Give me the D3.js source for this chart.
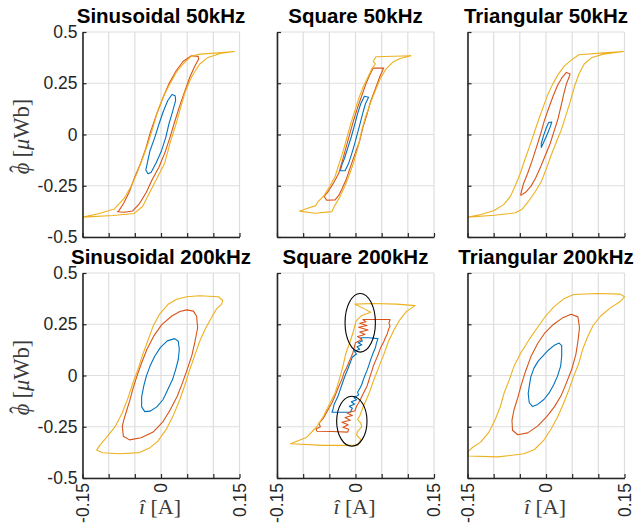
<!DOCTYPE html>
<html>
<head>
<meta charset="utf-8">
<script src="https://cdn.jsdelivr.net/npm/d3@7"></script>
<style>
  html, body { margin: 0; padding: 0; background: #fff; }
  svg { display: block; }
  text { white-space: pre; }
</style>
</head>
<body>
<svg id="chart" width="636" height="527"></svg>
<script>
// Axis ticks
const iTicks = [-0.15, -0.1, -0.05, 0, 0.05, 0.1, 0.15];
const iTickLabels = [-0.15, 0, 0.15];
const phiTicks = [-0.5, -0.25, 0, 0.25, 0.5];
const panelTitles = ["Sinusoidal 50kHz", "Square 50kHz", "Triangular 50kHz",
                     "Sinusoidal 200kHz", "Square 200kHz", "Triangular 200kHz"];

// B-H loops: [current i (A), flux phi (uWb)]
const sin50Blue = [[-0.025,-0.192],[-0.019,-0.185],[-0.009,-0.137],[0.001,-0.079],[0.009,-0.015],[0.015,0.050],[0.022,0.110],[0.028,0.166],[0.027,0.189],[0.021,0.195],[0.013,0.166],[0.004,0.110],[-0.004,0.050],[-0.012,-0.015],[-0.021,-0.079],[-0.026,-0.137],[-0.029,-0.173]];
const sin50Red = [[-0.083,-0.377],[-0.070,-0.379],[-0.054,-0.373],[-0.041,-0.337],[-0.028,-0.282],[-0.017,-0.221],[-0.004,-0.160],[0.007,-0.092],[0.017,-0.015],[0.026,0.061],[0.036,0.142],[0.046,0.215],[0.055,0.279],[0.065,0.335],[0.072,0.368],[0.071,0.381],[0.058,0.384],[0.042,0.356],[0.029,0.311],[0.015,0.247],[0.003,0.174],[-0.009,0.094],[-0.020,0.013],[-0.029,-0.068],[-0.039,-0.140],[-0.051,-0.213],[-0.060,-0.277],[-0.071,-0.334],[-0.081,-0.374]];
const sin50Yellow = [[-0.149,-0.403],[-0.092,-0.395],[-0.051,-0.385],[-0.035,-0.350],[-0.019,-0.269],[-0.006,-0.205],[0.007,-0.140],[0.017,-0.044],[0.029,0.053],[0.036,0.118],[0.046,0.206],[0.058,0.279],[0.074,0.344],[0.090,0.376],[0.113,0.395],[0.140,0.405],[0.103,0.397],[0.074,0.392],[0.058,0.382],[0.042,0.344],[0.029,0.303],[0.017,0.247],[0.004,0.182],[-0.006,0.118],[-0.015,0.037],[-0.025,-0.044],[-0.035,-0.116],[-0.046,-0.189],[-0.057,-0.253],[-0.070,-0.310],[-0.089,-0.363],[-0.118,-0.385]];

const sq50Blue = [[-0.029,-0.176],[-0.020,-0.177],[-0.013,-0.140],[-0.007,-0.092],[-0.001,-0.040],[0.004,0.008],[0.009,0.056],[0.014,0.105],[0.019,0.150],[0.025,0.182],[0.017,0.187],[0.010,0.150],[0.004,0.102],[-0.002,0.045],[-0.008,-0.011],[-0.015,-0.068],[-0.021,-0.116],[-0.026,-0.148]];
const sq50Red = [[-0.055,-0.321],[-0.039,-0.319],[-0.032,-0.297],[-0.026,-0.266],[-0.018,-0.221],[-0.010,-0.160],[-0.001,-0.095],[0.008,-0.031],[0.014,0.034],[0.022,0.098],[0.029,0.163],[0.038,0.223],[0.046,0.279],[0.052,0.315],[0.054,0.324],[0.034,0.324],[0.028,0.295],[0.020,0.247],[0.012,0.190],[0.004,0.131],[-0.004,0.066],[-0.011,0.002],[-0.018,-0.063],[-0.025,-0.127],[-0.032,-0.189],[-0.042,-0.237],[-0.052,-0.277],[-0.060,-0.302]];
const sq50Yellow = [[-0.107,-0.374],[-0.077,-0.384],[-0.045,-0.376],[-0.041,-0.353],[-0.031,-0.310],[-0.021,-0.256],[-0.013,-0.205],[-0.004,-0.140],[0.005,-0.060],[0.012,0.021],[0.019,0.085],[0.028,0.150],[0.038,0.215],[0.047,0.271],[0.058,0.319],[0.071,0.352],[0.085,0.371],[0.106,0.384],[0.073,0.382],[0.039,0.379],[0.034,0.356],[0.038,0.344],[0.032,0.324],[0.024,0.282],[0.015,0.234],[0.007,0.182],[-0.001,0.118],[-0.009,0.053],[-0.016,-0.011],[-0.023,-0.076],[-0.031,-0.140],[-0.039,-0.205],[-0.050,-0.256],[-0.060,-0.298],[-0.071,-0.326],[-0.076,-0.347],[-0.093,-0.361]];

const tri50Blue = [[-0.009,-0.063],[-0.004,-0.035],[0.003,0.005],[0.008,0.037],[0.011,0.061],[0.005,0.058],[0.000,0.029],[-0.005,-0.008],[-0.009,-0.044]];
const tri50Red = [[-0.048,-0.297],[-0.039,-0.282],[-0.029,-0.253],[-0.020,-0.213],[-0.010,-0.156],[-0.001,-0.100],[0.008,-0.044],[0.015,0.013],[0.023,0.077],[0.029,0.142],[0.034,0.198],[0.039,0.247],[0.044,0.279],[0.046,0.295],[0.039,0.303],[0.031,0.279],[0.022,0.239],[0.014,0.190],[0.006,0.134],[-0.003,0.069],[-0.010,0.005],[-0.018,-0.060],[-0.026,-0.124],[-0.035,-0.189],[-0.043,-0.240],[-0.048,-0.289]];
const tri50Yellow = [[-0.149,-0.403],[-0.099,-0.394],[-0.058,-0.382],[-0.045,-0.363],[-0.032,-0.321],[-0.020,-0.277],[-0.009,-0.229],[0.001,-0.165],[0.010,-0.100],[0.020,-0.035],[0.029,0.021],[0.037,0.085],[0.046,0.158],[0.055,0.239],[0.063,0.295],[0.073,0.344],[0.088,0.376],[0.110,0.392],[0.148,0.405],[0.110,0.398],[0.063,0.389],[0.048,0.363],[0.034,0.331],[0.023,0.292],[0.013,0.247],[0.004,0.198],[-0.005,0.137],[-0.014,0.073],[-0.023,0.005],[-0.032,-0.063],[-0.041,-0.127],[-0.049,-0.189],[-0.058,-0.245],[-0.068,-0.302],[-0.081,-0.342],[-0.099,-0.371],[-0.124,-0.390]];

const sin200Blue = [[0.026,0.180],[0.033,0.167],[0.035,0.127],[0.033,0.078],[0.028,0.029],[0.022,-0.020],[0.013,-0.068],[0.004,-0.117],[-0.008,-0.153],[-0.021,-0.174],[-0.031,-0.176],[-0.037,-0.153],[-0.037,-0.104],[-0.033,-0.052],[-0.028,-0.003],[-0.021,0.046],[-0.012,0.094],[-0.001,0.137],[0.012,0.169]];
const sin200Red = [[0.049,0.320],[0.062,0.314],[0.068,0.289],[0.070,0.233],[0.065,0.167],[0.059,0.098],[0.050,0.029],[0.041,-0.036],[0.031,-0.101],[0.018,-0.166],[0.003,-0.228],[-0.015,-0.276],[-0.038,-0.304],[-0.060,-0.314],[-0.072,-0.296],[-0.074,-0.247],[-0.070,-0.207],[-0.065,-0.166],[-0.060,-0.125],[-0.054,-0.068],[-0.046,-0.003],[-0.037,0.062],[-0.027,0.127],[-0.014,0.192],[0.001,0.247],[0.020,0.289],[0.036,0.312]];
const sin200Yellow = [[-0.123,-0.364],[-0.112,-0.377],[-0.079,-0.382],[-0.041,-0.376],[-0.022,-0.354],[-0.006,-0.320],[0.010,-0.263],[0.023,-0.198],[0.036,-0.117],[0.046,-0.044],[0.055,0.029],[0.065,0.102],[0.074,0.167],[0.084,0.224],[0.095,0.276],[0.106,0.325],[0.116,0.348],[0.118,0.366],[0.110,0.384],[0.074,0.389],[0.049,0.384],[0.029,0.371],[0.013,0.346],[-0.003,0.298],[-0.015,0.241],[-0.025,0.171],[-0.035,0.102],[-0.044,0.029],[-0.054,-0.039],[-0.063,-0.109],[-0.074,-0.182],[-0.087,-0.247],[-0.102,-0.296],[-0.117,-0.341]];

const sq200Blue = [[-0.045,-0.179],[-0.026,-0.179],[-0.010,-0.179],[-0.006,-0.160],[-0.012,-0.150],[-0.002,-0.140],[-0.008,-0.128],[0.002,-0.118],[-0.003,-0.108],[0.006,-0.095],[0.004,-0.082],[0.009,-0.060],[0.012,-0.044],[0.015,-0.020],[0.018,0.000],[0.022,0.025],[0.025,0.046],[0.028,0.070],[0.031,0.091],[0.034,0.112],[0.038,0.135],[0.040,0.158],[0.043,0.180],[0.025,0.184],[0.010,0.184],[0.013,0.168],[0.005,0.160],[0.012,0.150],[0.003,0.140],[0.008,0.128],[-0.002,0.118],[0.002,0.105],[-0.006,0.090],[-0.009,0.070],[-0.012,0.050],[-0.015,0.029],[-0.019,0.005],[-0.022,-0.016],[-0.025,-0.038],[-0.028,-0.060],[-0.031,-0.082],[-0.034,-0.104],[-0.041,-0.141],[-0.043,-0.166]];
const sq200Red = [[-0.074,-0.272],[-0.045,-0.273],[-0.015,-0.276],[-0.013,-0.262],[-0.024,-0.252],[-0.014,-0.240],[-0.026,-0.228],[-0.010,-0.218],[-0.020,-0.205],[-0.006,-0.195],[-0.016,-0.183],[-0.001,-0.172],[0.002,-0.150],[0.006,-0.133],[0.010,-0.113],[0.014,-0.093],[0.018,-0.072],[0.022,-0.052],[0.025,-0.028],[0.028,-0.003],[0.031,0.020],[0.034,0.046],[0.038,0.070],[0.042,0.094],[0.048,0.135],[0.054,0.165],[0.057,0.184],[0.061,0.205],[0.063,0.224],[0.066,0.240],[0.064,0.257],[0.066,0.273],[0.034,0.273],[0.014,0.273],[0.020,0.262],[0.008,0.255],[0.022,0.244],[0.006,0.235],[0.024,0.222],[0.008,0.212],[0.018,0.200],[0.004,0.190],[0.012,0.176],[0.000,0.160],[-0.001,0.151],[-0.003,0.130],[-0.005,0.111],[-0.009,0.086],[-0.013,0.062],[-0.017,0.038],[-0.022,0.013],[-0.025,-0.012],[-0.029,-0.036],[-0.033,-0.060],[-0.037,-0.085],[-0.041,-0.110],[-0.045,-0.133],[-0.054,-0.174],[-0.062,-0.211],[-0.070,-0.234],[-0.067,-0.250],[-0.075,-0.260]];
const sq200Yellow = [[-0.124,-0.333],[-0.061,-0.341],[0.004,-0.341],[0.010,-0.312],[0.002,-0.290],[0.004,-0.272],[0.012,-0.250],[0.010,-0.231],[0.004,-0.215],[0.008,-0.198],[0.015,-0.150],[0.025,-0.093],[0.034,-0.028],[0.044,0.037],[0.054,0.102],[0.063,0.167],[0.074,0.224],[0.085,0.273],[0.098,0.314],[0.114,0.341],[0.079,0.348],[0.034,0.351],[-0.001,0.348],[0.017,0.325],[0.029,0.309],[0.012,0.293],[0.001,0.265],[-0.004,0.216],[-0.010,0.167],[-0.018,0.111],[-0.024,0.046],[-0.031,-0.020],[-0.039,-0.085],[-0.050,-0.141],[-0.061,-0.198],[-0.074,-0.250],[-0.093,-0.301]];
// Highlighted regions: [i centre, phi centre, i radius, phi radius]
const sq200Marks = [[0.009, 0.257, 0.029, 0.143], [-0.007, -0.223, 0.029, 0.122]];

const tri200Blue = [[0.025,0.158],[0.030,0.146],[0.030,0.094],[0.028,0.046],[0.022,-0.003],[0.015,-0.044],[0.006,-0.085],[-0.004,-0.117],[-0.016,-0.141],[-0.026,-0.151],[-0.032,-0.133],[-0.034,-0.088],[-0.032,-0.052],[-0.029,-0.007],[-0.023,0.036],[-0.015,0.070],[-0.004,0.101],[0.006,0.127],[0.015,0.146]];
const tri200Red = [[0.048,0.299],[0.061,0.286],[0.064,0.233],[0.061,0.167],[0.057,0.102],[0.049,0.029],[0.039,-0.036],[0.029,-0.098],[0.016,-0.153],[0.001,-0.202],[-0.016,-0.247],[-0.035,-0.280],[-0.054,-0.289],[-0.064,-0.267],[-0.065,-0.218],[-0.061,-0.166],[-0.054,-0.109],[-0.048,-0.052],[-0.039,0.021],[-0.029,0.091],[-0.016,0.156],[-0.003,0.205],[0.014,0.249],[0.031,0.280]];
const tri200Yellow = [[-0.149,-0.371],[-0.149,-0.393],[-0.092,-0.397],[-0.042,-0.382],[-0.022,-0.361],[-0.004,-0.315],[0.010,-0.260],[0.023,-0.198],[0.034,-0.133],[0.044,-0.068],[0.053,-0.003],[0.063,0.062],[0.070,0.127],[0.080,0.192],[0.090,0.244],[0.104,0.289],[0.123,0.330],[0.142,0.361],[0.150,0.384],[0.142,0.397],[0.097,0.400],[0.053,0.395],[0.034,0.374],[0.015,0.335],[-0.001,0.289],[-0.018,0.228],[-0.032,0.176],[-0.048,0.111],[-0.061,0.046],[-0.070,-0.020],[-0.080,-0.085],[-0.087,-0.150],[-0.097,-0.215],[-0.110,-0.280],[-0.125,-0.325],[-0.140,-0.350]];

const loopColors = ["#0072BD", "#D95319", "#EDB120"];

const panels = [
  { title: panelTitles[0], loops: [sin50Blue, sin50Red, sin50Yellow], marks: [] },
  { title: panelTitles[1], loops: [sq50Blue, sq50Red, sq50Yellow], marks: [] },
  { title: panelTitles[2], loops: [tri50Blue, tri50Red, tri50Yellow], marks: [] },
  { title: panelTitles[3], loops: [sin200Blue, sin200Red, sin200Yellow], marks: [] },
  { title: panelTitles[4], loops: [sq200Blue, sq200Red, sq200Yellow], marks: sq200Marks },
  { title: panelTitles[5], loops: [tri200Blue, tri200Red, tri200Yellow], marks: [] }
];

// Layout
const colLeft = [82.5, 277, 467.5];
const rowTop = [32, 273];
const pw = 157, ph = 205;
const axisColor = "#262626";
const sans = "'Liberation Sans', Arial, Helvetica, sans-serif";
const serif = "'Liberation Serif', 'DejaVu Serif', serif";

const svg = d3.select("#chart");

const x = d3.scaleLinear().domain([-0.15, 0.15]).range([0, pw]);
const y = d3.scaleLinear().domain([-0.5, 0.5]).range([ph, 0]);
const line = d3.line().x(d => x(d[0])).y(d => y(d[1])).curve(d3.curveLinearClosed);

panels.forEach((p, k) => {
  const r = Math.floor(k / 3), c = k % 3;
  const g = svg.append("g").attr("transform", `translate(${colLeft[c]},${rowTop[r]})`);

  // grid
  g.append("g").selectAll("line").data(iTicks).join("line")
    .attr("x1", d => x(d)).attr("x2", d => x(d)).attr("y1", 0).attr("y2", ph)
    .attr("stroke", "#dedede").attr("stroke-width", 1.2);
  g.append("g").selectAll("line").data(phiTicks).join("line")
    .attr("x1", 0).attr("x2", pw).attr("y1", d => y(d)).attr("y2", d => y(d))
    .attr("stroke", "#dedede").attr("stroke-width", 1.2);

  // loops
  g.append("g").selectAll("path").data(p.loops).join("path")
    .attr("d", d => line(d))
    .attr("fill", "none")
    .attr("stroke", (d, i) => loopColors[i])
    .attr("stroke-width", 1.1)
    .attr("stroke-linejoin", "round");

  // highlighted regions
  g.append("g").selectAll("ellipse").data(p.marks).join("ellipse")
    .attr("cx", d => x(d[0])).attr("cy", d => y(d[1]))
    .attr("rx", d => x(d[2]) - x(0)).attr("ry", d => y(0) - y(d[3]))
    .attr("fill", "none").attr("stroke", "#000").attr("stroke-width", 1.1);

  // axes (ticks pointing inward)
  const ax = g.append("g").attr("transform", `translate(0,${ph})`)
    .call(d3.axisBottom(x).tickValues(iTicks).tickSizeInner(-4).tickSizeOuter(0).tickFormat(""));
  const ay = g.append("g")
    .call(d3.axisLeft(y).tickValues(phiTicks).tickSizeInner(-4).tickSizeOuter(0).tickPadding(5)
      .tickFormat(c === 0 ? d => String(d) : ""));
  [ax, ay].forEach(a => {
    a.select(".domain").attr("stroke", axisColor).attr("stroke-width", 1.6);
    a.selectAll(".tick line").attr("stroke", axisColor).attr("stroke-width", 1.2);
    a.selectAll(".tick text").attr("fill", axisColor)
      .style("font-family", sans).style("font-size", "17.5px");
  });

  // title
  g.append("text").attr("x", pw / 2).attr("y", -9)
    .attr("text-anchor", "middle")
    .style("font-family", sans).style("font-size", "20.5px").style("font-weight", "bold")
    .attr("fill", "#000").text(p.title);

  // rotated current tick labels on the bottom row
  if (r === 1) {
    g.append("g").selectAll("text").data(iTickLabels).join("text")
      .attr("transform", d => `translate(${x(d)},${ph + 5}) rotate(-90)`)
      .attr("text-anchor", "end").attr("dy", "0.35em")
      .style("font-family", sans).style("font-size", "17.5px")
      .attr("fill", axisColor).text(d => String(d));

    const xl = g.append("text").attr("x", x(0) - 1).attr("y", ph + 36)
      .attr("text-anchor", "middle")
      .style("font-family", serif).style("font-size", "22px").attr("fill", "#3a3a3a");
    xl.append("tspan").style("font-style", "italic").text("\u00EE");
    xl.append("tspan").text(" [A]");
  }

  // flux label on the left column (hat placed over phi)
  if (c === 0) {
    const yl = g.append("text")
      .attr("transform", `translate(-54,${ph / 2 + 2}) rotate(-90)`)
      .attr("text-anchor", "middle")
      .style("font-family", serif).style("font-size", "22.5px").attr("fill", "#3a3a3a");
    yl.append("tspan").style("font-style", "italic").text("\u03D5");
    yl.append("tspan").attr("dx", "-0.45em").attr("dy", "-0.12em").text("\u02C6");
    yl.append("tspan").attr("dx", "0.1em").attr("dy", "0.12em").text(" [");
    yl.append("tspan").style("font-style", "italic").text("\u03BC");
    yl.append("tspan").text("Wb]");
  }
});
</script>
</body>
</html>
